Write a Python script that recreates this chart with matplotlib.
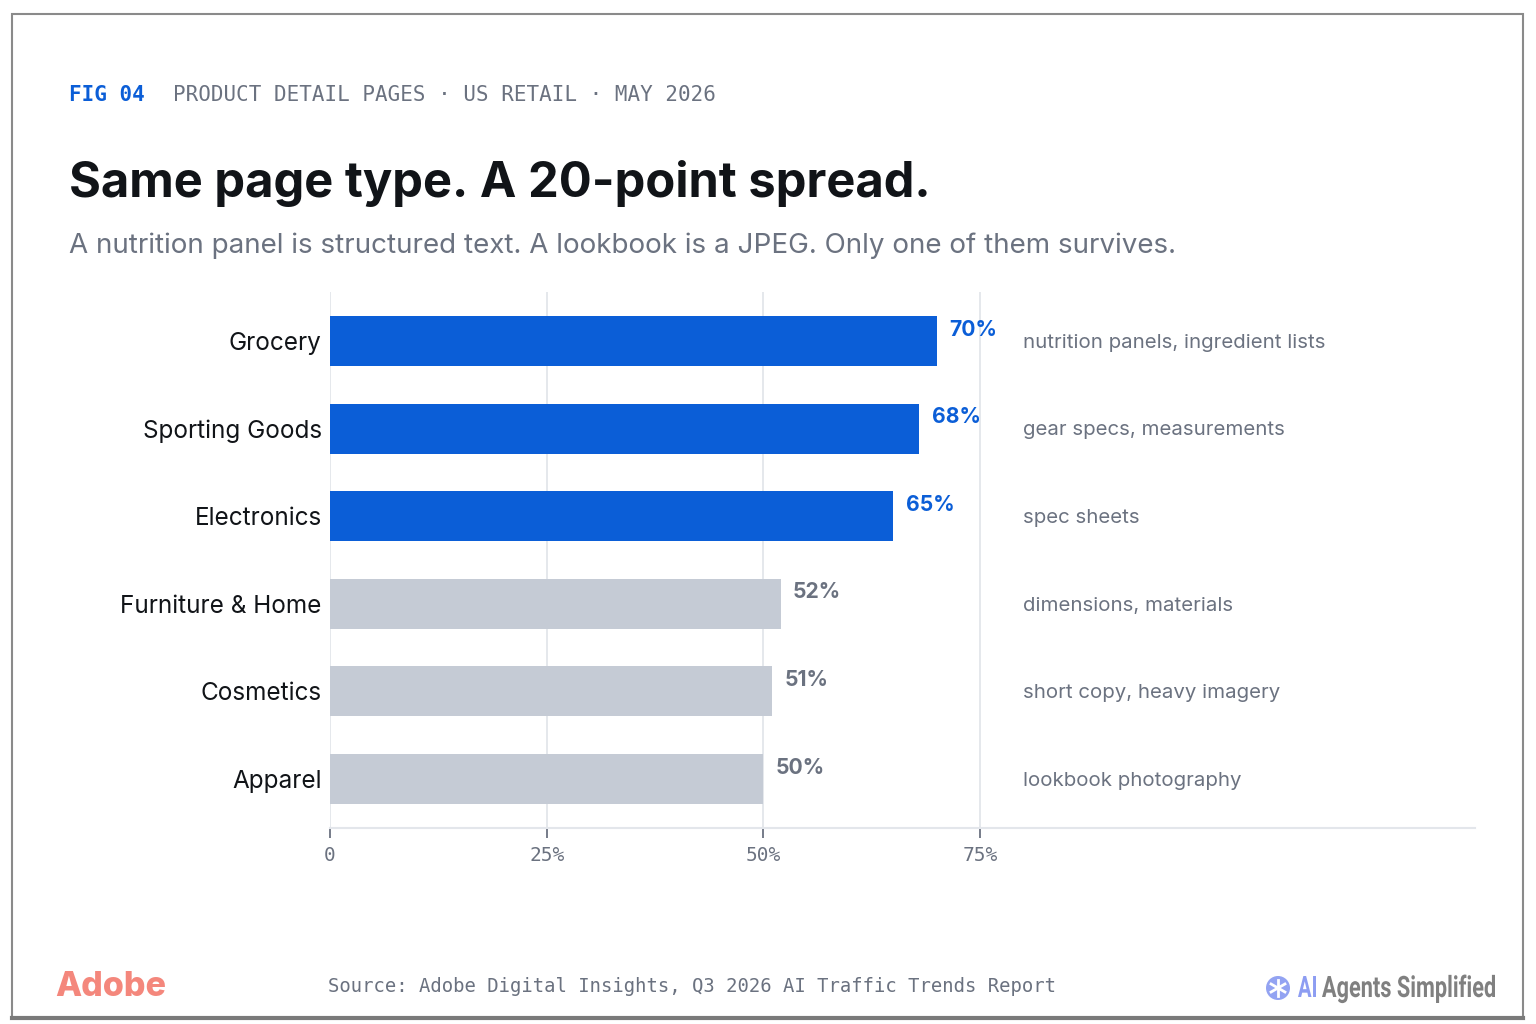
import matplotlib
matplotlib.use("Agg")
import matplotlib.pyplot as plt
import matplotlib.transforms as mtransforms
from matplotlib.patches import Rectangle, Ellipse, PathPatch
from matplotlib.lines import Line2D
from matplotlib.textpath import TextPath
from matplotlib.font_manager import FontProperties
import numpy as np

# data
categories = ["Grocery", "Sporting Goods", "Electronics", "Furniture & Home", "Cosmetics", "Apparel"]
values = [70, 68, 65, 52, 51, 50]
highlight = [True, True, True, False, False, False]
notes = ["nutrition panels, ingredient lists", "gear specs, measurements", "spec sheets",
         "dimensions, materials", "short copy, heavy imagery", "lookbook photography"]
tick_vals = [0, 25, 50, 75]
tick_labels = ["0", "25%", "50%", "75%"]

BLUE = "#0B5ED7"
GRAY_BAR = "#C5CBD5"
GRAY_TXT = "#6B7280"
INK = "#111418"
GRID = "#E3E6EB"
SANS = ["Inter", "DejaVu Sans"]
MONO = ["DejaVu Sans Mono"]

W, H = 1536, 1024
fig = plt.figure(figsize=(W/100, H/100), dpi=100)
fig.patch.set_facecolor("white")

ax = fig.add_axes([330/W, 1-828/H, (1475-330)/W, (828-292)/H])
ys = list(range(len(categories)))
cols = [BLUE if h else GRAY_BAR for h in highlight]
ax.barh(ys, values, height=0.57, color=cols, zorder=3)
ax.set_xlim(0, 132.1)
ax.set_ylim(5.56, -0.56)

for x in tick_vals:
    ax.axvline(x, color=GRID, lw=1.3, zorder=1)

for s in ["top", "right", "left"]:
    ax.spines[s].set_visible(False)
ax.spines["bottom"].set_color(GRID)
ax.spines["bottom"].set_linewidth(1.5)

ax.set_xticks(tick_vals)
ax.set_xticklabels(tick_labels, family=MONO, fontsize=14, color=GRAY_TXT)
ax.tick_params(axis="x", length=7, width=1.3, color=GRAY_TXT, pad=6)
ax.set_yticks(ys)
ax.set_yticklabels(categories, family=SANS, fontsize=17.5, color=INK)
ax.tick_params(axis="y", length=0, pad=6)

for y, v, h, n in zip(ys, values, highlight, notes):
    ax.text(v + 1.4, y - 0.13, f"{v}%", family=SANS, fontsize=15.2, fontweight="bold",
            color=BLUE if h else GRAY_TXT, va="center", ha="left", zorder=4)
    ax.text(80, y + 0.02, n, family=SANS, fontsize=14.7, color=GRAY_TXT, va="center", ha="left")

# header
fig.text(69/W, 1-95/H, "FIG 04", family=MONO, fontsize=15, fontweight="bold",
         color=BLUE, va="center", ha="left")
fig.text(173/W, 1-95/H, "PRODUCT DETAIL PAGES · US RETAIL · MAY 2026", family=MONO,
         fontsize=15, color=GRAY_TXT, va="center", ha="left")
fig.text(69/W, 1-197/H, "Same page type. A 20-point spread.", family=SANS, fontsize=35.2,
         fontweight="bold", color=INK, va="baseline", ha="left")
fig.text(69/W, 1-246/H,
         "A nutrition panel is structured text. A lookbook is a JPEG. Only one of them survives.",
         family=SANS, fontsize=20, color=GRAY_TXT, va="center", ha="left")

# footer
fig.text(55/W, 1-987/H, "Adobe", family=SANS, fontsize=24.5, fontweight="heavy",
         color="#F4877C", va="center", ha="left")
fig.text(328/W, 1-986/H, "Source: Adobe Digital Insights, Q3 2026 AI Traffic Trends Report",
         family=MONO, fontsize=13.55, color=GRAY_TXT, va="center", ha="left")


def condensed(txt, x0, x1, base, cap, color):
    # draw bold text squeezed to span pixels x0..x1 with given cap height
    fp = FontProperties(family=["Roboto", "DejaVu Sans"], weight="bold")
    tp = TextPath((0, 0), txt, size=1, prop=fp)
    ref = TextPath((0, 0), "H", size=1, prop=fp).get_extents()
    bb = tp.get_extents()
    sy = cap / ref.y1
    sx = (x1 - x0) / bb.width
    tr = mtransforms.Affine2D().translate(-bb.x0, 0).scale(sx / W, sy / H).translate(x0 / W, 1 - base / H)
    fig.add_artist(PathPatch(tr.transform_path(tp), facecolor=color, edgecolor="none",
                             transform=fig.transFigure))


condensed("AI", 1298, 1316, 997, 21, "#8D9DF2")
condensed("Agents Simplified", 1322, 1495, 997, 21, "#808080")

cx, cy, r = 1278, 988, 12
fig.add_artist(Ellipse((cx/W, 1-cy/H), 2*r/W, 2*r/H, transform=fig.transFigure,
                       facecolor="#93A3F2", edgecolor="none"))
for ang in [90, 30, 150]:
    a = np.deg2rad(ang)
    dx, dy = 8*np.cos(a), 8*np.sin(a)
    fig.add_artist(Line2D([(cx-dx)/W, (cx+dx)/W], [1-(cy-dy)/H, 1-(cy+dy)/H],
                          transform=fig.transFigure, color="white", lw=2))

# frame
fig.add_artist(Rectangle((12/W, 1-1018/H), (1523-12)/W, (1018-14)/H,
                         transform=fig.transFigure, fill=False, edgecolor="#8A8A8A", lw=1.5))
fig.add_artist(Line2D([12/W, 1523/W], [1-1018/H, 1-1018/H],
                      transform=fig.transFigure, color="#7A7A7A", lw=3))

fig.savefig("out.png", dpi=100, facecolor="white")
